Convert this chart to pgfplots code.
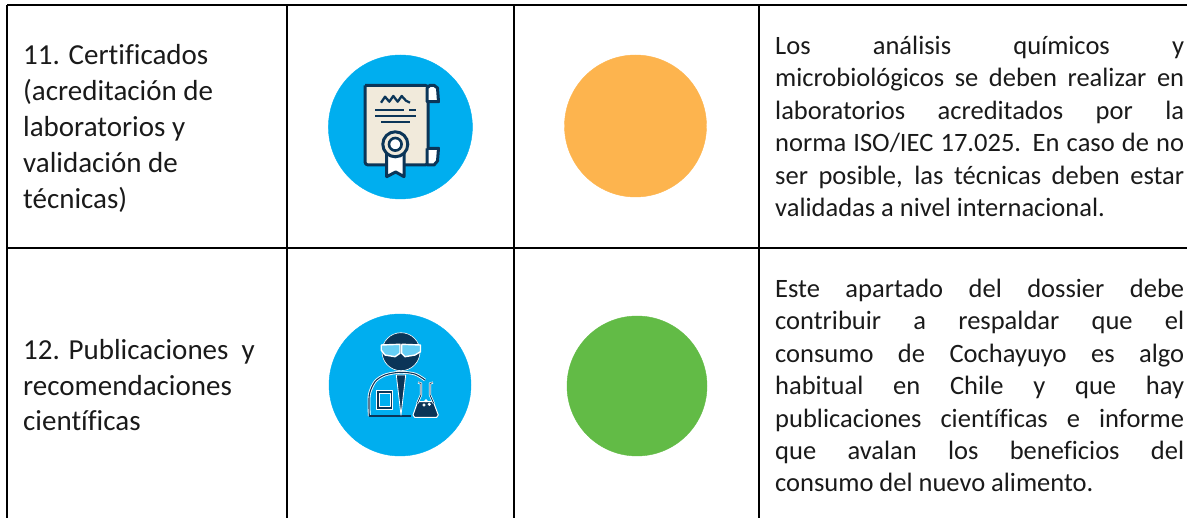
\documentclass[border=0pt]{standalone}
\usepackage{pgfplots}
\pgfplotsset{compat=1.18}
\usepackage{fontspec}
\setmainfont[Ligatures=CommonOff]{Carlito}
\definecolor{cblue}{HTML}{00AEEF}
\definecolor{corange}{HTML}{FDB44E}
\definecolor{cgreen}{HTML}{62BB46}
\definecolor{navy}{HTML}{0B3558}
\definecolor{cream}{HTML}{F1EADB}
\definecolor{txt}{HTML}{1A1A1A}
\newcommand{\ca}[3]{\node[anchor=base west,inner sep=0pt,text=txt,font=\fontsize{29}{34}\selectfont] at (axis cs:#1,#2) {#3};}
\newcommand{\cj}[2]{\node[anchor=base west,inner sep=0pt,text=txt,font=\fontsize{26.5}{31}\selectfont] at (axis cs:775,#1) {\makebox[409pt][s]{#2}};}
\newcommand{\cn}[2]{\node[anchor=base west,inner sep=0pt,text=txt,font=\fontsize{26.5}{31}\selectfont] at (axis cs:775,#1) {#2};}
\pgfplotsset{
  rule/.style={black,line width=2.4pt,no markers,forget plot},
  dot/.style={only marks,mark=*,mark size=#1,forget plot},
  ic/.style={no markers,forget plot,line join=round},
  sheet/.style={at={(0,0)},anchor=south west,
    scale only axis,width=1187pt,height=518pt,
    xmin=0,xmax=1187,ymin=0,ymax=518,y dir=reverse,
    axis lines=none,clip=true},
}
\begin{document}
\begin{tikzpicture}
\path[use as bounding box] (0,0) rectangle (1187pt,518pt);
\begin{axis}[sheet]
% discs
\addplot[dot=72,mark options={draw=cblue,fill=cblue}] coordinates {(400.4,127)};
\addplot[dot=71,mark options={draw=cblue,fill=cblue}] coordinates {(400,385)};
\addplot[dot=71,mark options={draw=corange,fill=corange}] coordinates {(635.5,126)};
\addplot[dot=70,mark options={draw=cgreen,fill=cgreen}] coordinates {(637,386)};
\addplot[dot=19,mark options={draw=white,fill=navy,line width=.6pt}] coordinates {(401,351.7)};
\end{axis}
\begin{axis}[sheet]
% table rules
\addplot[rule] coordinates {(7,5) (1187,5)};
\addplot[rule] coordinates {(7,248) (1187,248)};
\addplot[rule] coordinates {(7,5) (7,518)};
\addplot[rule] coordinates {(287,5) (287,518)};
\addplot[rule] coordinates {(514,5) (514,518)};
\addplot[rule] coordinates {(759,5) (759,518)};
% certificate icon
\addplot[ic,draw=navy,fill=cream,line width=3pt,rounded corners=3pt] coordinates {(365,85.3) (428,85.3) (428,165) (365,165) (365,85.3)};
\addplot[ic,draw=navy,fill=white,line width=3pt] coordinates {(427,88) (430,85.3) (434,85.3) (437.5,88) (438.5,101.7) (427,101.7) (427,88)};
\addplot[ic,draw=navy,fill=white,line width=3pt] coordinates {(427,148.3) (438.5,148.3) (437.5,161) (434,165) (427,165) (427,148.3)};
\addplot[ic,navy,line width=2.3pt] coordinates {(381,102.7) (385,96.7) (389.3,101.7) (393.3,96) (397.7,101.7) (401.7,96) (406,100.7) (410,102.7)};
\addplot[ic,navy,line width=2.2pt] coordinates {(375,110) (404.3,110)};
\addplot[ic,navy,line width=2.2pt] coordinates {(409.3,110) (416.3,110)};
\addplot[ic,navy,line width=2.2pt] coordinates {(375,116) (416.3,116)};
\addplot[ic,navy,line width=2.2pt] coordinates {(381,122) (410.3,122)};
\addplot[ic,draw=navy,fill=white,line width=3pt] coordinates {(386.7,153.3) (386.7,176.7) (395.7,172) (404,176.7) (404,153.3) (386.7,153.3)};
\addplot[dot=12.5,mark options={draw=navy,fill=cream,line width=3pt}] coordinates {(395.3,144.3)};
\addplot[dot=6.3,mark options={draw=navy,fill=white,line width=2.6pt}] coordinates {(395.3,144.3)};
% scientist icon
\addplot[ic,draw=white,fill=cblue!60!white,line width=1.4pt] coordinates {(381.2,345) (400,344.3) (400,353.3) (395,356.7) (385,355) (381.2,350) (381.2,345)};
\addplot[ic,draw=white,fill=cblue!60!white,line width=1.4pt] coordinates {(401.7,344.3) (420.5,345) (420.5,351.7) (415,355) (405,356.7) (401.7,353.3) (401.7,344.3)};
\addplot[ic,white,line width=2.8pt,smooth] coordinates {(369.3,416) (369.3,395) (375,381.7) (385,375) (400,372.3) (415,374) (425,380)};
\addplot[ic,white,line width=2.8pt] coordinates {(369.3,416) (410.7,416)};
\addplot[ic,navy,line width=1.1pt,smooth] coordinates {(369.3,416) (369.3,395) (375,381.7) (385,375) (400,372.3) (415,374) (425,380)};
\addplot[ic,navy,line width=1.1pt] coordinates {(369.3,416) (410.7,416)};
\addplot[ic,draw=white,fill=navy,line width=.8pt] coordinates {(396.3,375) (405.7,375) (401,415.3) (396.3,375)};
\addplot[ic,draw=white,fill=navy,line width=.6pt] coordinates {(376.3,390.7) (392.7,390.7) (392.7,409.3) (376.3,409.3) (376.3,390.7)};
\addplot[ic,draw=white,fill=cblue,line width=1pt] coordinates {(379,393.3) (390,393.3) (390,406.7) (379,406.7) (379,393.3)};
\addplot[ic,draw=white,fill=navy,line width=1pt] coordinates {(417.7,401.7) (433.3,401.7) (438.3,415) (436.7,417.3) (414.7,417.3) (413,415) (417.7,401.7)};
\addplot[ic,white,line width=2.2pt] coordinates {(418,382.7) (421,383.3) (421,395) (417.3,403.3)};
\addplot[ic,white,line width=2.2pt] coordinates {(433,382.7) (430,383.3) (430,395) (433.7,403.3)};
\addplot[ic,navy,line width=.8pt] coordinates {(418.5,382.7) (421,383.3) (421,395) (417.3,403.3)};
\addplot[ic,navy,line width=.8pt] coordinates {(432.5,382.7) (430,383.3) (430,395) (433.7,403.3)};
\addplot[dot=1.4,mark options={draw=white,fill=white}] coordinates {(426,400.7) (429.3,404.3) (424,405)};
% text
\ca{23}{65}{11. Certificados}
\ca{23}{101}{(acreditación de}
\ca{23}{137}{laboratorios y}
\ca{23}{173}{validación de}
\ca{23}{208.5}{técnicas)}
\ca{23}{360}{12. Publicaciones\ \ y}
\ca{23}{395.5}{recomendaciones}
\ca{23}{431}{científicas}
\cj{54.5}{Los análisis químicos y}
\cj{87}{microbiológicos se deben realizar en}
\cj{119.5}{laboratorios acreditados por la}
\cj{152}{norma ISO/IEC 17.025. En caso de no}
\cj{184.5}{ser posible, las técnicas deben estar}
\cn{217}{validadas a nivel internacional.}
\cj{297.5}{Este apartado del dossier debe}
\cj{330}{contribuir a respaldar que el}
\cj{362.5}{consumo de Cochayuyo es algo}
\cj{395}{habitual en Chile y que hay}
\cj{427.5}{publicaciones científicas e informe}
\cj{460}{que avalan los beneficios del}
\cn{492}{consumo del nuevo alimento.}
\end{axis}
\end{tikzpicture}
\end{document}
